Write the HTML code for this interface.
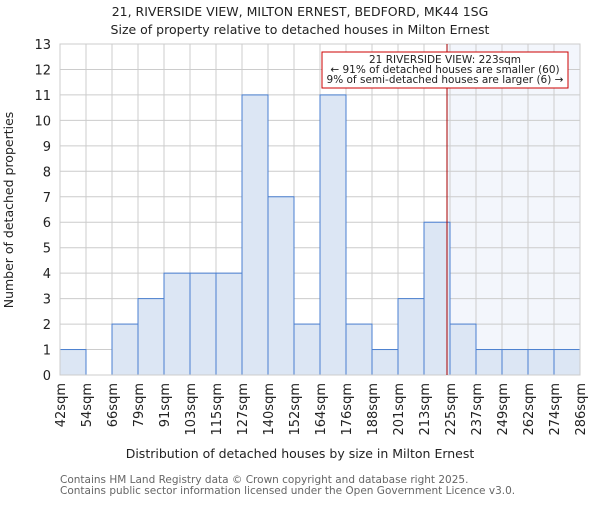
<!DOCTYPE html>
<html><head><meta charset="utf-8"><style>
body{margin:0;background:#fff;}
svg text{font-family:"DejaVu Sans","Liberation Sans",sans-serif;}
</style></head><body>
<svg id="c" width="600" height="500" xmlns="http://www.w3.org/2000/svg">
<text x="300" y="16" text-anchor="middle" font-size="12.5" fill="#222">21, RIVERSIDE VIEW, MILTON ERNEST, BEDFORD, MK44 1SG</text>
<text x="300" y="34" text-anchor="middle" font-size="12.5" fill="#222">Size of property relative to detached houses in Milton Ernest</text>
<g id="plot"></g>
<text x="300" y="458" text-anchor="middle" font-size="12.5" fill="#222">Distribution of detached houses by size in Milton Ernest</text>
<text transform="translate(13,210) rotate(-90)" text-anchor="middle" font-size="12.5" fill="#222">Number of detached properties</text>
<text x="60" y="483" font-size="10.5" fill="#666">Contains HM Land Registry data © Crown copyright and database right 2025.</text>
<text x="60" y="494" font-size="10.5" fill="#666">Contains public sector information licensed under the Open Government Licence v3.0.</text>
</svg>
<script>
const categories=["42sqm","54sqm","66sqm","79sqm","91sqm","103sqm","115sqm","127sqm","140sqm","152sqm","164sqm","176sqm","188sqm","201sqm","213sqm","225sqm","237sqm","249sqm","262sqm","274sqm","286sqm"];
const counts=[1,0,2,3,4,4,4,11,7,2,11,2,1,3,6,2,1,1,1,1];
const yTicks=[0,1,2,3,4,5,6,7,8,9,10,11,12,13];
const markerValue=223;
const binStarts=[42,54,66,79,91,103,115,127,140,152,164,176,188,201,213,225,237,249,262,274,286];
const NS="http://www.w3.org/2000/svg";
const g=document.getElementById('plot');
const X0=60,X1=580,Y0=375,Y1=44;
const bw=(X1-X0)/counts.length;
const y=v=>Y0-(v/13)*(Y0-Y1);
const xi=i=>X0+i*bw;
function xv(v){for(let i=0;i<binStarts.length-1;i++){if(v>=binStarts[i]&&v<=binStarts[i+1])return xi(i)+(v-binStarts[i])/(binStarts[i+1]-binStarts[i])*bw;}return X1;}
function el(t,a){const e=document.createElementNS(NS,t);for(const k in a)e.setAttribute(k,a[k]);g.appendChild(e);return e;}
const mx=Math.round(xv(markerValue))+1;
let s=el('rect',{x:mx,y:Y1,width:X1-mx,height:Y0-Y1,fill:'#f3f6fc'});


yTicks.forEach(t=>{const l=el('line',{x1:X0,x2:X1,y1:y(t),y2:y(t),stroke:'#ccc'});


const tx=el('text',{x:X0-9,y:y(t)+5,'text-anchor':'end','font-size':13,fill:'#222'});tx.textContent=t;

});
categories.forEach((c,i)=>{const l=el('line',{x1:xi(i),x2:xi(i),y1:Y1,y2:Y0,stroke:'#ccc'});


const tx=el('text',{transform:`translate(${xi(i)+5},${Y0+8}) rotate(-90)`,'text-anchor':'end','font-size':13,fill:'#222'});tx.textContent=c;

});
counts.forEach((v,i)=>{if(v<=0)return;const r=el('rect',{x:xi(i),y:y(v),width:bw,height:Y0-y(v),fill:'#dce6f4',stroke:'#4a7fd0','stroke-width':1});

});
let b=el('rect',{x:X0,y:Y1,width:X1-X0,height:Y0-Y1,fill:'none',stroke:'#ccc'});


let ml=el('line',{x1:mx,x2:mx,y1:Y1,y2:Y0,stroke:'#aa0000','stroke-width':1});


let box=el('rect',{x:322,y:52,width:246,height:36,fill:'#fff',stroke:'#cc0000'});


["21 RIVERSIDE VIEW: 223sqm","← 91% of detached houses are smaller (60)","9% of semi-detached houses are larger (6) →"].forEach((t,i)=>{const tx=el('text',{x:445,y:63+i*10,'text-anchor':'middle','font-size':10.5,fill:'#222'});tx.textContent=t;

});
</script>
</body></html>
